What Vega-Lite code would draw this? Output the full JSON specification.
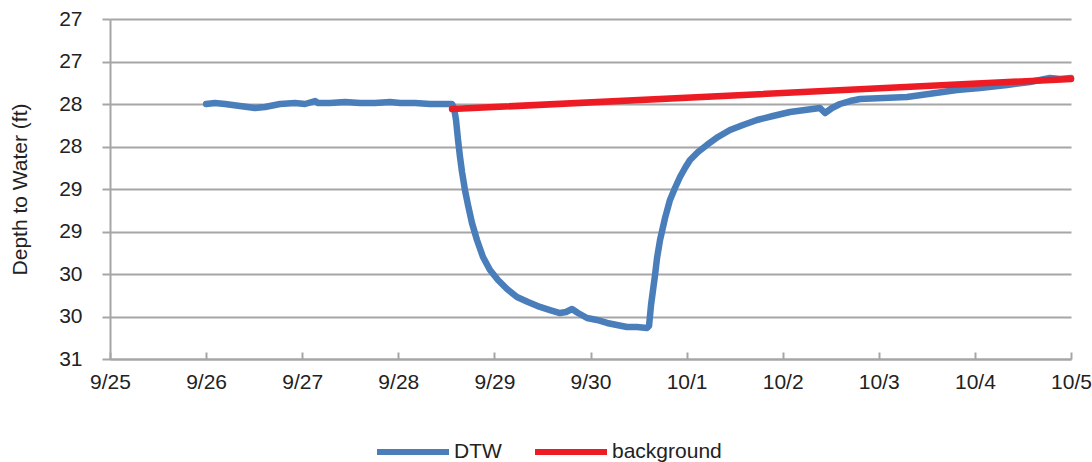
{
  "$schema": "https://vega.github.io/schema/vega-lite/v6.json",
  "width": 961,
  "height": 340,
  "autosize": {"type": "none"},
  "padding": {"left": 110, "top": 19, "right": 21, "bottom": 103},
  "background": "white",
  "config": {
    "view": {"stroke": null},
    "font": "Liberation Sans",
    "axis": {
      "domainColor": "#a6a6a6",
      "domainWidth": 2,
      "tickColor": "#a6a6a6",
      "tickWidth": 2,
      "gridColor": "#a6a6a6",
      "gridWidth": 2,
      "labelFont": "Liberation Sans",
      "labelFontSize": 21,
      "labelColor": "#222222",
      "titleFont": "Liberation Sans",
      "titleFontSize": 21,
      "titleFontWeight": "normal",
      "titleColor": "#222222"
    },
    "legend": {
      "labelFont": "Liberation Sans",
      "labelFontSize": 21,
      "labelColor": "#222222"
    }
  },
  "data": {
    "values": [
      {"series": "DTW", "time": "2013-09-26T00:00", "dtw": 27.5},
      {"series": "DTW", "time": "2013-09-26T02:13", "dtw": 27.488},
      {"series": "DTW", "time": "2013-09-26T04:43", "dtw": 27.5},
      {"series": "DTW", "time": "2013-09-26T08:28", "dtw": 27.524},
      {"series": "DTW", "time": "2013-09-26T12:13", "dtw": 27.547},
      {"series": "DTW", "time": "2013-09-26T14:43", "dtw": 27.535},
      {"series": "DTW", "time": "2013-09-26T18:27", "dtw": 27.5},
      {"series": "DTW", "time": "2013-09-26T22:12", "dtw": 27.488},
      {"series": "DTW", "time": "2013-09-27T00:42", "dtw": 27.5},
      {"series": "DTW", "time": "2013-09-27T03:12", "dtw": 27.465},
      {"series": "DTW", "time": "2013-09-27T03:57", "dtw": 27.488},
      {"series": "DTW", "time": "2013-09-27T06:57", "dtw": 27.488},
      {"series": "DTW", "time": "2013-09-27T10:41", "dtw": 27.476},
      {"series": "DTW", "time": "2013-09-27T14:26", "dtw": 27.488},
      {"series": "DTW", "time": "2013-09-27T18:11", "dtw": 27.488},
      {"series": "DTW", "time": "2013-09-27T21:56", "dtw": 27.476},
      {"series": "DTW", "time": "2013-09-28T00:25", "dtw": 27.488},
      {"series": "DTW", "time": "2013-09-28T04:10", "dtw": 27.488},
      {"series": "DTW", "time": "2013-09-28T07:55", "dtw": 27.5},
      {"series": "DTW", "time": "2013-09-28T11:40", "dtw": 27.5},
      {"series": "DTW", "time": "2013-09-28T13:25", "dtw": 27.5},
      {"series": "DTW", "time": "2013-09-28T13:55", "dtw": 27.547},
      {"series": "DTW", "time": "2013-09-28T14:25", "dtw": 27.688},
      {"series": "DTW", "time": "2013-09-28T14:55", "dtw": 27.924},
      {"series": "DTW", "time": "2013-09-28T15:25", "dtw": 28.124},
      {"series": "DTW", "time": "2013-09-28T15:55", "dtw": 28.3},
      {"series": "DTW", "time": "2013-09-28T16:39", "dtw": 28.512},
      {"series": "DTW", "time": "2013-09-28T17:24", "dtw": 28.688},
      {"series": "DTW", "time": "2013-09-28T18:24", "dtw": 28.9},
      {"series": "DTW", "time": "2013-09-28T19:39", "dtw": 29.1},
      {"series": "DTW", "time": "2013-09-28T21:09", "dtw": 29.3},
      {"series": "DTW", "time": "2013-09-28T22:54", "dtw": 29.453},
      {"series": "DTW", "time": "2013-09-29T00:54", "dtw": 29.571},
      {"series": "DTW", "time": "2013-09-29T03:09", "dtw": 29.676},
      {"series": "DTW", "time": "2013-09-29T05:38", "dtw": 29.771},
      {"series": "DTW", "time": "2013-09-29T08:23", "dtw": 29.829},
      {"series": "DTW", "time": "2013-09-29T11:23", "dtw": 29.888},
      {"series": "DTW", "time": "2013-09-29T13:53", "dtw": 29.924},
      {"series": "DTW", "time": "2013-09-29T16:23", "dtw": 29.959},
      {"series": "DTW", "time": "2013-09-29T17:53", "dtw": 29.947},
      {"series": "DTW", "time": "2013-09-29T19:23", "dtw": 29.912},
      {"series": "DTW", "time": "2013-09-29T20:53", "dtw": 29.959},
      {"series": "DTW", "time": "2013-09-29T23:08", "dtw": 30.018},
      {"series": "DTW", "time": "2013-09-30T01:37", "dtw": 30.041},
      {"series": "DTW", "time": "2013-09-30T04:07", "dtw": 30.076},
      {"series": "DTW", "time": "2013-09-30T06:37", "dtw": 30.1},
      {"series": "DTW", "time": "2013-09-30T09:07", "dtw": 30.124},
      {"series": "DTW", "time": "2013-09-30T11:37", "dtw": 30.124},
      {"series": "DTW", "time": "2013-09-30T14:07", "dtw": 30.135},
      {"series": "DTW", "time": "2013-09-30T14:37", "dtw": 30.112},
      {"series": "DTW", "time": "2013-09-30T15:07", "dtw": 29.865},
      {"series": "DTW", "time": "2013-09-30T15:37", "dtw": 29.688},
      {"series": "DTW", "time": "2013-09-30T16:07", "dtw": 29.512},
      {"series": "DTW", "time": "2013-09-30T16:37", "dtw": 29.312},
      {"series": "DTW", "time": "2013-09-30T17:22", "dtw": 29.1},
      {"series": "DTW", "time": "2013-09-30T18:37", "dtw": 28.841},
      {"series": "DTW", "time": "2013-09-30T19:51", "dtw": 28.629},
      {"series": "DTW", "time": "2013-09-30T21:06", "dtw": 28.488},
      {"series": "DTW", "time": "2013-09-30T22:21", "dtw": 28.359},
      {"series": "DTW", "time": "2013-09-30T23:36", "dtw": 28.253},
      {"series": "DTW", "time": "2013-10-01T00:51", "dtw": 28.159},
      {"series": "DTW", "time": "2013-10-01T02:51", "dtw": 28.065},
      {"series": "DTW", "time": "2013-10-01T05:05", "dtw": 27.982},
      {"series": "DTW", "time": "2013-10-01T07:50", "dtw": 27.888},
      {"series": "DTW", "time": "2013-10-01T10:50", "dtw": 27.806},
      {"series": "DTW", "time": "2013-10-01T14:05", "dtw": 27.747},
      {"series": "DTW", "time": "2013-10-01T17:35", "dtw": 27.688},
      {"series": "DTW", "time": "2013-10-01T21:35", "dtw": 27.641},
      {"series": "DTW", "time": "2013-10-02T01:49", "dtw": 27.594},
      {"series": "DTW", "time": "2013-10-02T05:34", "dtw": 27.571},
      {"series": "DTW", "time": "2013-10-02T09:19", "dtw": 27.547},
      {"series": "DTW", "time": "2013-10-02T10:34", "dtw": 27.606},
      {"series": "DTW", "time": "2013-10-02T12:19", "dtw": 27.547},
      {"series": "DTW", "time": "2013-10-02T14:19", "dtw": 27.5},
      {"series": "DTW", "time": "2013-10-02T16:49", "dtw": 27.465},
      {"series": "DTW", "time": "2013-10-02T19:18", "dtw": 27.441},
      {"series": "DTW", "time": "2013-10-03T07:02", "dtw": 27.418},
      {"series": "DTW", "time": "2013-10-03T19:32", "dtw": 27.335},
      {"series": "DTW", "time": "2013-10-04T01:16", "dtw": 27.312},
      {"series": "DTW", "time": "2013-10-04T08:01", "dtw": 27.276},
      {"series": "DTW", "time": "2013-10-04T13:45", "dtw": 27.241},
      {"series": "DTW", "time": "2013-10-04T18:45", "dtw": 27.194},
      {"series": "DTW", "time": "2013-10-04T21:15", "dtw": 27.206},
      {"series": "DTW", "time": "2013-10-05T00:00", "dtw": 27.194},
      {"series": "background", "time": "2013-09-28T13:25", "dtw": 27.56},
      {"series": "background", "time": "2013-10-05T00:00", "dtw": 27.206}
    ]
  },
  "mark": {"type": "line", "strokeWidth": 6.5, "strokeCap": "round", "strokeJoin": "round"},
  "encoding": {
    "x": {
      "field": "time",
      "type": "temporal",
      "scale": {"domain": [{"year": 2013, "month": 9, "date": 25}, {"year": 2013, "month": 10, "date": 5}]},
      "axis": {
        "title": null,
        "grid": false,
        "format": "%-m/%-d",
        "values": [
          {"year": 2013, "month": 9, "date": 25},
          {"year": 2013, "month": 9, "date": 26},
          {"year": 2013, "month": 9, "date": 27},
          {"year": 2013, "month": 9, "date": 28},
          {"year": 2013, "month": 9, "date": 29},
          {"year": 2013, "month": 9, "date": 30},
          {"year": 2013, "month": 10, "date": 1},
          {"year": 2013, "month": 10, "date": 2},
          {"year": 2013, "month": 10, "date": 3},
          {"year": 2013, "month": 10, "date": 4},
          {"year": 2013, "month": 10, "date": 5}
        ],
        "tickSize": -7,
        "labelPadding": 19,
        "labelFlush": false,
        "labelOverlap": false
      }
    },
    "y": {
      "field": "dtw",
      "type": "quantitative",
      "scale": {"domain": [26.5, 30.5], "reverse": true, "nice": false, "zero": false},
      "axis": {
        "title": "Depth to Water (ft)",
        "values": [26.5, 27, 27.5, 28, 28.5, 29, 29.5, 30, 30.5],
        "format": ".0f",
        "tickSize": 8,
        "labelPadding": 20,
        "titlePadding": 28,
        "labelFlush": false,
        "labelOverlap": false
      }
    },
    "color": {
      "field": "series",
      "type": "nominal",
      "scale": {"domain": ["DTW", "background"], "range": ["#4a7ebb", "#ed1c24"]},
      "legend": {
        "title": null,
        "orient": "none",
        "direction": "horizontal",
        "legendX": 264,
        "legendY": 394,
        "symbolType": "stroke",
        "symbolSize": 5184,
        "symbolStrokeWidth": 6,
        "labelOffset": 2,
        "columnPadding": 21,
        "padding": 0
      }
    }
  }
}
